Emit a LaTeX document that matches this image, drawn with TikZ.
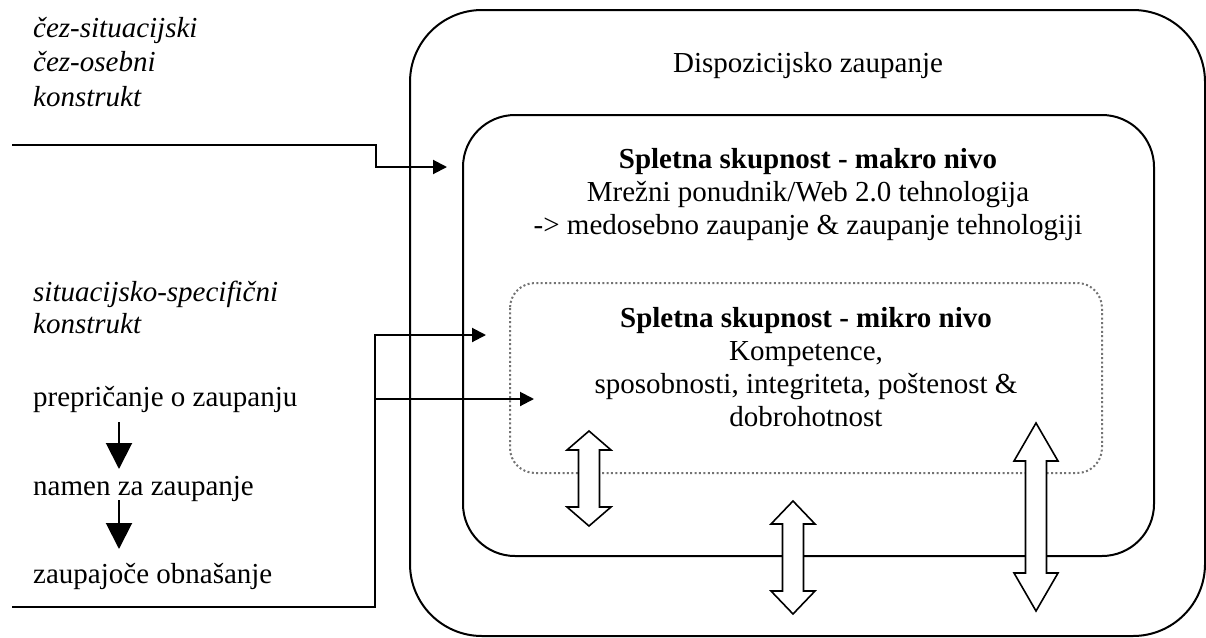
\documentclass[tikz,border=0pt]{standalone}
\usepackage{fontspec}
\setmainfont{Liberation Serif}
\usetikzlibrary{arrows.meta}
\newcommand{\mydblarrow}[4]{%
  \draw[dblarr] (#1,#2) -- (#1+22,#2+#4) -- (#1+10.5,#2+#4) -- (#1+10.5,#3-#4)
    -- (#1+22,#3-#4) -- (#1,#3) -- (#1-22,#3-#4) -- (#1-10.5,#3-#4)
    -- (#1-10.5,#2+#4) -- (#1-22,#2+#4) -- cycle;}
\begin{document}
\begin{tikzpicture}[x=1pt,y=-1pt,
  txt/.style={inner sep=0pt, font=\fontsize{29}{33}\selectfont},
  itxt/.style={inner sep=0pt, font=\fontsize{29}{#1}\selectfont\itshape},
  box/.style={draw=black, line width=2pt},
  dotbox/.style={draw=black!55, line width=2pt, dash pattern=on 2pt off 2.4pt},
  conn/.style={draw=black, line width=2pt},
  tip/.style={-{Triangle[length=14pt,width=14pt]}},
  bigtip/.style={-{Triangle[length=26pt,width=26pt]}},
  dblarr/.style={draw=black, fill=white, line width=1.6pt, line join=miter}]
\useasboundingbox (0,0) rectangle (1206,637);
% boxes
\draw[box, rounded corners=72pt] (410,10) rectangle (1205,636);
\draw[box, rounded corners=52pt] (463,115) rectangle (1154,556);
\draw[dotbox, rounded corners=25pt] (510,283) rectangle (1102,473);
% texts (base anchor = baseline of the last line)
\node[txt, anchor=base] (disp) at (808,72) {Dispozicijsko zaupanje};
\node[txt, anchor=base, align=center] (makro) at (808,234)
  {\textbf{Spletna skupnost - makro nivo}\\Mrežni ponudnik/Web 2.0 tehnologija\\-> medosebno zaupanje \& zaupanje tehnologiji};
\node[txt, anchor=base, align=center] (mikro) at (806,426)
  {\textbf{Spletna skupnost - mikro nivo}\\Kompetence,\\sposobnosti, integriteta, poštenost \&\\dobrohotnost};
\node[itxt=34.5, anchor=base west, align=left] (cez) at (33,106)
  {čez-situacijski\\čez-osebni\\konstrukt};
\node[itxt=31.5, anchor=base west, align=left] (sit) at (33,333)
  {situacijsko-specifični\\konstrukt};
\node[txt, anchor=base west] (prep) at (33,406) {prepričanje o zaupanju};
\node[txt, anchor=base west] (namen) at (33,495) {namen za zaupanje};
\node[txt, anchor=base west] (zaup) at (33,583) {zaupajoče obnašanje};
% coordinates
\coordinate (a1s) at (12,145);
\coordinate (a1t) at (447,167);
\coordinate (b1s) at (12,607);
\coordinate (b1t) at (486,335);
\coordinate (b2s) at (375,399);
\coordinate (b2t) at (534,399);
\coordinate (d1s) at (119,422);
\coordinate (d1t) at (119,469);
\coordinate (d2s) at (119,500);
\coordinate (d2t) at (119,549);
% connectors
\draw[conn, tip] (a1s) -- (376,145) -- (376,167) -- (a1t);
\draw[conn, tip] (b1s) -- (375,607) -- (375,335) -- (b1t);
\draw[conn, tip] (b2s) -- (b2t);
\draw[conn, bigtip] (d1s) -- (d1t);
\draw[conn, bigtip] (d2s) -- (d2t);
% double arrows
\mydblarrow{589}{431}{526}{19}
\mydblarrow{793}{501}{614}{23}
\mydblarrow{1036}{423}{611}{38}
\end{tikzpicture}
\end{document}
